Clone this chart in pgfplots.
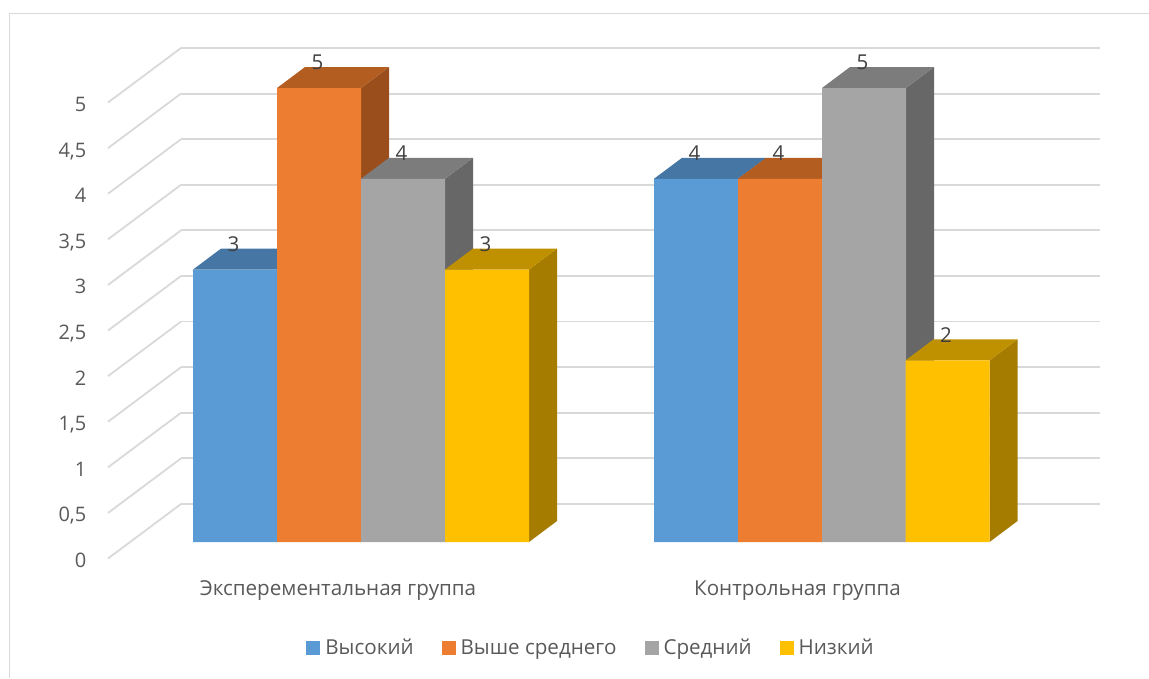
\documentclass[border=0pt]{standalone}
\usepackage{fontspec}
\setmainfont{Open Sans}
\usepackage{pgfplots}
\pgfplotsset{compat=1.18}
\usepackage{pgfplotstable}

\definecolor{gridc}{HTML}{D9D9D9}
\definecolor{txt}{HTML}{595959}
\definecolor{lbl}{HTML}{404040}
\definecolor{blueF}{HTML}{5B9BD5}
\definecolor{blueT}{HTML}{4676A4}
\definecolor{blueS}{HTML}{3F6A93}
\definecolor{orangeF}{HTML}{ED7D31}
\definecolor{orangeT}{HTML}{B45D21}
\definecolor{orangeS}{HTML}{9A4E1B}
\definecolor{grayF}{HTML}{A5A5A5}
\definecolor{grayT}{HTML}{7C7C7C}
\definecolor{grayS}{HTML}{676767}
\definecolor{yellowF}{HTML}{FFC000}
\definecolor{yellowT}{HTML}{BF9000}
\definecolor{yellowS}{HTML}{A67C00}

% Front faces: x is the bar centre along the axis, one table per level
\pgfplotstableread{
x   y
235 3
696 4
}\highT
\pgfplotstableread{
x   y
319 5
780 4
}\aboveT
\pgfplotstableread{
x   y
403 4
864 5
}\midT
\pgfplotstableread{
x   y
487 3
947.5 2
}\lowT

% Side and top faces of one bar: centre, value, top colour, side colour
\newcommand{\barfaces}[4]{%
  \addplot[fill=#4,draw=none,forget plot] coordinates
    {({#1+42},0) ({#1+70},0.231) ({#1+70},{#2+0.231}) ({#1+42},#2)} -- cycle;
  \addplot[fill=#3,draw=none,forget plot] coordinates
    {({#1-42},#2) ({#1+42},#2) ({#1+70},{#2+0.231}) ({#1-14},{#2+0.231})} -- cycle;
}
% Receding line on the side wall, one for each gridline
\newcommand{\walldiag}[1]{%
  \addplot[gridc,line width=1.8pt,forget plot] coordinates {(108,{#1-0.598}) (181,#1)};
}

\begin{document}
\begin{tikzpicture}[x=1pt,y=1pt]
\path[use as bounding box] (0,0) rectangle (1149,678);
\draw[gridc,line width=1.8pt] (9.5,0) -- (9.5,664.5) -- (1149,664.5);

% Back wall with the value scale
\begin{axis}[
  at={(181pt,174pt)}, scale only axis,
  width=919pt, height=456pt,
  xmin=181, xmax=1100, ymin=0, ymax=5,
  clip=false,
  axis line style={draw=none},
  xtick=\empty,
  ytick={0,0.5,1,1.5,2,2.5,3,3.5,4,4.5,5},
  major tick length=0pt,
  ymajorgrids,
  grid style={gridc,line width=1.8pt},
  /pgf/number format/use comma,
  /pgf/number format/assume math mode=true,
  yticklabel style={anchor=east,inner sep=0pt,xshift=-94.5pt,yshift=-56pt,
    font=\fontsize{20}{20}\selectfont,text=txt,text height=15pt,text depth=0pt},
]
\walldiag{0}\walldiag{0.5}\walldiag{1}\walldiag{1.5}\walldiag{2}\walldiag{2.5}
\walldiag{3}\walldiag{3.5}\walldiag{4}\walldiag{4.5}\walldiag{5}
\end{axis}

% Bars
\begin{axis}[
  at={(0pt,136pt)}, scale only axis,
  width=1149pt, height=454pt,
  xmin=0, xmax=1149, ymin=0, ymax=5,
  clip=false,
  axis line style={draw=none},
  ytick=\empty,
  xtick={338,797.5},
  xticklabels={Эксперементальная группа,Контрольная группа},
  major tick length=0pt,
  xticklabel style={anchor=center,inner sep=0pt,yshift=-49pt,
    font=\fontsize{20.6}{20.6}\selectfont,text=txt},
  /pgf/number format/assume math mode=true,
  nodes near coords style={anchor=center,xshift=-1.5pt,yshift=25.5pt,inner sep=0pt,
    font=\fontsize{20.5}{20.5}\selectfont,text=lbl},
  legend columns=4,
  legend style={at={(axis cs:591,-1.165)},anchor=center,draw=none,fill=none,
    font=\fontsize{20.6}{20.6}\selectfont,text=txt,inner sep=0pt,
    /tikz/every odd column/.append style={column sep=3pt},
    /tikz/every even column/.append style={column sep=26pt}},
  legend cell align=left,
]
\barfaces{235}{3}{blueT}{blueS}
\barfaces{696}{4}{blueT}{blueS}
\addplot[ybar,bar width=84,bar shift=0pt,fill=blueF,draw=none,nodes near coords,
  legend image code/.code={\fill[blueF] (0pt,-7pt) rectangle (14pt,7pt);}]
  table[x=x,y=y] {\highT};
\addlegendentry{Высокий}

\barfaces{319}{5}{orangeT}{orangeS}
\barfaces{780}{4}{orangeT}{orangeS}
\addplot[ybar,bar width=84,bar shift=0pt,fill=orangeF,draw=none,nodes near coords,
  legend image code/.code={\fill[orangeF] (0pt,-7pt) rectangle (14pt,7pt);}]
  table[x=x,y=y] {\aboveT};
\addlegendentry{Выше среднего}

\barfaces{403}{4}{grayT}{grayS}
\barfaces{864}{5}{grayT}{grayS}
\addplot[ybar,bar width=84,bar shift=0pt,fill=grayF,draw=none,nodes near coords,
  legend image code/.code={\fill[grayF] (0pt,-7pt) rectangle (14pt,7pt);}]
  table[x=x,y=y] {\midT};
\addlegendentry{Средний}

\barfaces{487}{3}{yellowT}{yellowS}
\barfaces{947.5}{2}{yellowT}{yellowS}
\addplot[ybar,bar width=84,bar shift=0pt,fill=yellowF,draw=none,nodes near coords,
  legend image code/.code={\fill[yellowF] (0pt,-7pt) rectangle (14pt,7pt);}]
  table[x=x,y=y] {\lowT};
\addlegendentry{Низкий}
\end{axis}
\end{tikzpicture}
\end{document}
